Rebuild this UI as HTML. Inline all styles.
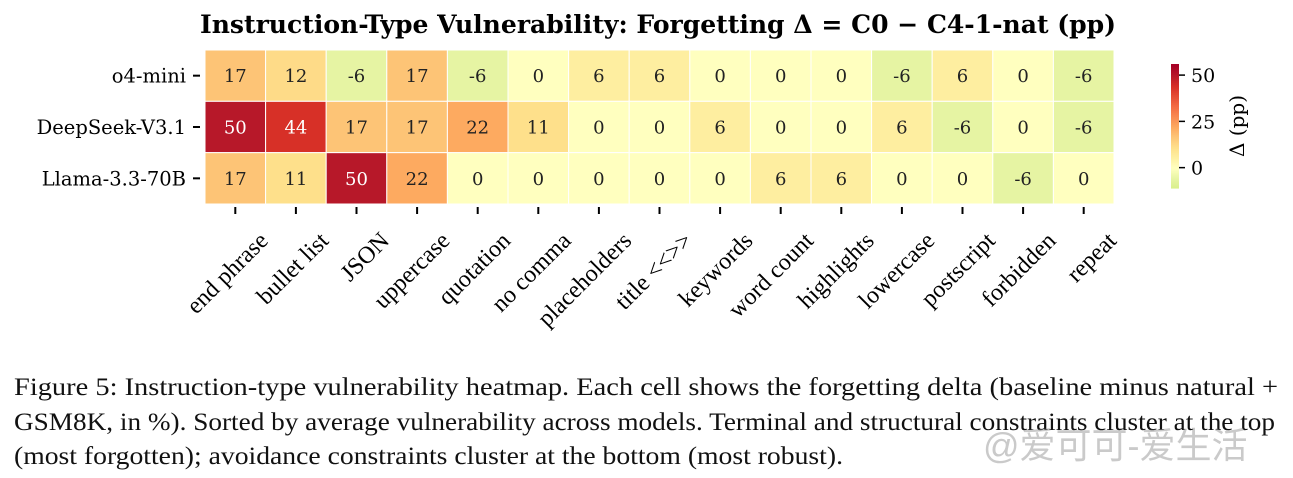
<!DOCTYPE html>
<html><head><meta charset="utf-8"><style>
body{margin:0;background:#fff;width:1293px;height:478px;overflow:hidden;position:relative}
svg{position:absolute;left:0;top:0}
#wm{position:absolute;left:983px;top:426px;font-family:"Liberation Sans","Noto Sans CJK SC",sans-serif;font-size:36px;line-height:40px;color:rgba(150,150,150,0.5);white-space:nowrap}
</style></head><body>
<svg id="chart" width="1293" height="478"></svg>
<svg width="1293" height="478" style="font-family:'Liberation Serif',serif;font-size:25px;fill:#111">
<text x="14" y="395" textLength="1264" lengthAdjust="spacingAndGlyphs">Figure 5: Instruction-type vulnerability heatmap. Each cell shows the forgetting delta (baseline minus natural +</text>
<text x="14" y="430" textLength="1261" lengthAdjust="spacingAndGlyphs">GSM8K, in %). Sorted by average vulnerability across models. Terminal and structural constraints cluster at the top</text>
<text x="14" y="464" textLength="829" lengthAdjust="spacingAndGlyphs">(most forgotten); avoidance constraints cluster at the bottom (most robust).</text>
</svg>
<div id="wm">@爱可可-爱生活</div>
<script>
const models=["o4-mini","DeepSeek-V3.1","Llama-3.3-70B"];
const categories=["end phrase","bullet list","JSON","uppercase","quotation","no comma","placeholders","title <<>>","keywords","word count","highlights","lowercase","postscript","forbidden","repeat"];
const rowO4=[17,12,-6,17,-6,0,6,6,0,0,0,-6,6,0,-6];
const rowDS=[50,44,17,17,22,11,0,0,6,0,0,6,-6,0,-6];
const rowLL=[17,11,50,22,0,0,0,0,0,6,6,0,0,-6,0];
const cbTicks=[0,25,50];
const values=[rowO4,rowDS,rowLL];
const NS="http://www.w3.org/2000/svg";
const svg=document.getElementById('chart');
function el(t,a,txt){const e=document.createElementNS(NS,t);for(const k in a)e.setAttribute(k,a[k]);if(txt!==undefined)e.textContent=txt;svg.appendChild(e);return e;}
const X0=205,X1=1114,Y0=50,Y1=204;
const cw=(X1-X0)/categories.length,rh=(Y1-Y0)/models.length;
const vmin=-11,vmax=56;
const stops=[[-11,[217,239,139]],[-6,[230,244,163]],[0,[255,255,191]],[6,[254,238,160]],[11,[254,224,139]],[17,[253,196,118]],[22,[253,170,96]],[33,[244,109,67]],[44,[215,48,39]],[50,[183,24,41]],[56,[165,0,38]]];
function color(v){v=Math.max(vmin,Math.min(vmax,v));for(let i=0;i<stops.length-1;i++){const a=stops[i],b=stops[i+1];if(v<=b[0]){const t=(v-a[0])/(b[0]-a[0]);return 'rgb('+a[1].map((c,j)=>Math.round(c+(b[1][j]-c)*t)).join(',')+')';}}return 'rgb(165,0,38)';}
const t=el('text',{x:658,y:33,'text-anchor':'middle','font-family':'DejaVu Serif,serif','font-weight':'bold','font-size':'25','textLength':916,'lengthAdjust':'spacingAndGlyphs'},'Instruction-Type Vulnerability: Forgetting Δ = C0 − C4-1-nat (pp)');

values.forEach((row,r)=>{
  const yl=el('text',{x:186,y:Y0+rh*(r+0.5)+7,'text-anchor':'end','font-family':'DejaVu Serif,serif','font-size':'19.5'},models[r]);
  
  el('line',{x1:193,x2:200,y1:Y0+rh*(r+0.5),y2:Y0+rh*(r+0.5),stroke:'#000','stroke-width':2});
  row.forEach((v,c)=>{
    const rc=el('rect',{x:X0+c*cw,y:Y0+r*rh,width:cw,height:rh,fill:color(v),stroke:'#fff','stroke-width':1});
    
    const tx=el('text',{x:X0+(c+0.5)*cw,y:Y0+(r+0.5)*rh+6.5,'text-anchor':'middle','font-family':'DejaVu Serif,serif','font-size':'18',fill:v>=40?'#fff':'#222'},String(v));
    
  });
});
categories.forEach((c,i)=>{
  const x=X0+(i+0.5)*cw;
  el('line',{x1:x,x2:x,y1:Y1+3,y2:Y1+10,stroke:'#000','stroke-width':2});
  const ax=x+34,ay=Y1+38;
  const l=el('text',{x:ax,y:ay,'text-anchor':'end','font-family':'Liberation Serif,serif','font-size':'24',transform:`rotate(-45 ${ax} ${ay})`},c);
  
});
const CX=1171,CW=8,CT=64,CB=188;
const cy=v=>CB-(v-vmin)/(vmax-vmin)*(CB-CT);
for(let i=0;i<62;i++){const v0=vmin+(vmax-vmin)*i/62,v1=vmin+(vmax-vmin)*(i+1)/62;
  el('rect',{x:CX,y:cy(v1),width:CW,height:cy(v0)-cy(v1)+0.6,fill:color((v0+v1)/2)});}
cbTicks.forEach(v=>{el('line',{x1:CX+CW,x2:CX+CW+6,y1:cy(v),y2:cy(v),stroke:'#000','stroke-width':1.5});
  const k=el('text',{x:CX+CW+12,y:cy(v)+7,'font-family':'DejaVu Serif,serif','font-size':'19'},String(v));
  });
const ct=el('text',{x:1244,y:126,'text-anchor':'middle','font-family':'DejaVu Serif,serif','font-size':'20',transform:'rotate(-90 1244 126)'},'Δ (pp)');

</script>
</body></html>
